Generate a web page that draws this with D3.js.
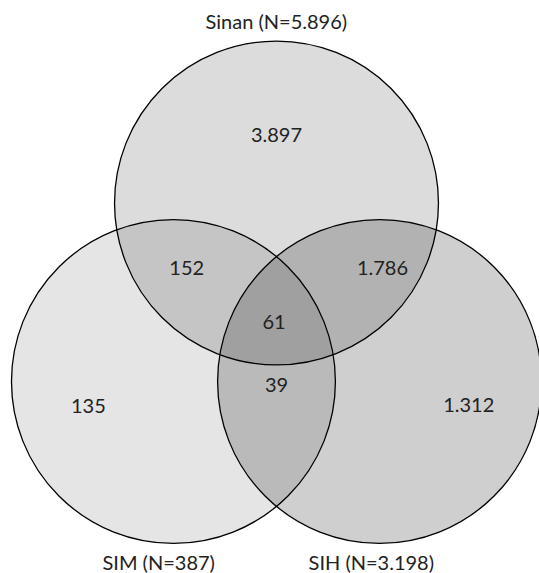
<!DOCTYPE html>
<html>
<head>
<meta charset="utf-8">
<script src="https://cdn.jsdelivr.net/npm/d3@7"></script>
<style>
  html, body { margin: 0; padding: 0; background: #fff; }
  svg { display: block; }
  text { font-family: Lato, "Open Sans", sans-serif; fill: #222; }
</style>
</head>
<body>
<svg id="chart" width="539" height="573"></svg>
<script>
// ---- data ----
const setNames = ["Sinan", "SIM", "SIH"];
const setSizes = ["5.896", "387", "3.198"];
const regionSets = [["Sinan"], ["SIM"], ["SIH"], ["Sinan", "SIM"], ["Sinan", "SIH"], ["SIM", "SIH"], ["Sinan", "SIM", "SIH"]];
const regionValues = ["3.897", "135", "1.312", "152", "1.786", "39", "61"];

// ---- layout (unit geometry) ----
const setAngles = [-90, 150, 30];          // direction of each circle from the centroid
const setShade = [0.137, 0.10, 0.19];      // fill opacity (black) per circle
const circleRadius = 1.361;                // in units of centroid-to-center distance
// label positions in polar form around centroid: [angle deg, distance in units]
const labelPolar = [[-90, 1.57], [156, 1.73], [23.4, 1.76], [-149, 0.88], [-27, 1.0], [90, 0.53], [180, 0.02]];
const fontSize = 20;

const W = 539, H = 573;
const cx0 = 276.5, cy0 = 322, unit = 119;
const x = d3.scaleLinear().domain([-1, 1]).range([cx0 - unit, cx0 + unit]);
const y = d3.scaleLinear().domain([-1, 1]).range([cy0 - unit, cy0 + unit]);
const rpx = d => x(d) - x(0);

const svg = d3.select("#chart");

const circles = setNames.map((name, i) => {
  const a = setAngles[i] * Math.PI / 180;
  return { name, size: setSizes[i], ux: Math.cos(a), uy: Math.sin(a), shade: setShade[i] };
});

// fills
svg.append("g").selectAll("circle").data(circles).join("circle")
  .attr("cx", d => x(d.ux)).attr("cy", d => y(d.uy)).attr("r", rpx(circleRadius))
  .attr("fill", "#000").attr("fill-opacity", d => d.shade).attr("stroke", "none");
// outlines
svg.append("g").selectAll("circle").data(circles).join("circle")
  .attr("cx", d => x(d.ux)).attr("cy", d => y(d.uy)).attr("r", rpx(circleRadius))
  .attr("fill", "none").attr("stroke", "#000").attr("stroke-width", 1.3);

// set labels (start-anchored)
const setLabelPos = [
  { dy: -circleRadius - 0.1 },   // top label above top circle
  { dy: circleRadius + 0.225 },  // below circles
  { dy: circleRadius + 0.225 }
];
svg.append("g").selectAll("text").data(circles).join("text")
  .attr("x", d => x(d.ux) - 71)
  .attr("y", (d, i) => y(d.uy + setLabelPos[i].dy))
  .attr("font-size", fontSize)
  .attr("text-anchor", "start")
  .text(d => `${d.name} (N=${d.size})`);

// region values
const regions = regionValues.map((v, i) => {
  const [ang, dist] = labelPolar[i];
  const a = ang * Math.PI / 180;
  return { v, sets: regionSets[i], ux: Math.cos(a) * dist, uy: Math.sin(a) * dist };
});
svg.append("g").selectAll("text").data(regions).join("text")
  .attr("x", d => x(d.ux)).attr("y", d => y(d.uy))
  .attr("dy", "0.35em")
  .attr("font-size", fontSize)
  .attr("text-anchor", "middle")
  .text(d => d.v);
</script>
</body>
</html>
